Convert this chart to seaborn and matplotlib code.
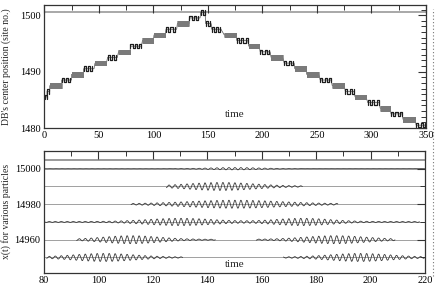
import numpy as np
import pandas as pd
import matplotlib
matplotlib.use("Agg")
import matplotlib.pyplot as plt
from matplotlib.ticker import MultipleLocator, FixedLocator
from matplotlib.lines import Line2D
import seaborn as sns

# ---------------- data ----------------
# Top panel: DB centre position. Each block = time span during which the
# centre hops between site n and site n+1.
blk_t0 = [0.5, 2.5, 5, 16, 25, 36, 46.5, 58, 68, 79, 90, 100.6, 111.6, 122, 133, 143.4,
          148, 153.5, 165, 176.5, 187.5, 198, 208, 220, 229.7, 240.6, 253, 264, 276, 285,
          296.6, 308, 318, 329, 341]
blk_t1 = [2.5, 5, 16, 25, 36, 45.6, 57, 67, 78.6, 89, 100, 111, 121.4, 132.7, 142.8, 147.4,
          153, 162, 176, 186.5, 197, 207, 218.6, 229, 240, 251.7, 263, 275, 284, 295,
          307, 317, 328, 340, 349.5]
blk_site = [1485, 1486, 1487, 1488, 1489, 1490, 1491, 1492, 1493, 1494, 1495, 1496, 1497, 1498,
            1499, 1500, 1498, 1497, 1496, 1495, 1494, 1493, 1492, 1491, 1490, 1489, 1488, 1487,
            1486, 1485, 1484, 1483, 1482, 1481, 1480]
blk_dense = [0, 0, 1, 0, 1, 0, 1, 0, 1, 0, 1, 1, 0, 1, 0, 0,
             0, 0, 1, 0, 1, 0, 1, 0, 1, 1, 0, 1, 0, 1, 0, 1, 0, 1, 0]

# Bottom panel: x(t) of particles around sites 14950 ... 15000
row_levels = [15000, 14990, 14980, 14970, 14960, 14950]
seg_row = [15000, 14990, 14980, 14970, 14960, 14960, 14950, 14950]
seg_t0 = [80, 125, 112, 80, 92, 158, 81, 168]
seg_t1 = [220, 175, 188, 218, 143, 209, 131, 220]
pk_row = [15000, 14990, 14980, 14970, 14970, 14960, 14960, 14950, 14950]
pk_center = [150, 145, 150, 130, 175, 112, 187, 102, 196]
pk_width = [9, 12, 17, 12, 10, 10, 11, 11, 11]
pk_amp = [0.6, 2.0, 2.0, 1.8, 1.8, 2.0, 2.0, 2.0, 2.0]
osc_period = 2.2
osc_floor = 0.25

# ---------------- build tables ----------------
tt, vv, uu, kk = [], [], [], []
for b, (t0, t1, n, d) in enumerate(zip(blk_t0, blk_t1, blk_site, blk_dense)):
    h = 0.3 if d else 2.0
    lo, hi = n + 0.1, n + 0.9
    ts = np.arange(t0, t1 + 1e-9, h)
    cur = lo
    for t in ts:
        for j in range(2):
            tt.append(t); vv.append(cur); uu.append(b); kk.append("dense" if d else "sparse")
            if j == 0:
                cur = hi if cur == lo else lo
top_df = pd.DataFrame({"time": tt, "pos": vv, "blk": uu, "kind": kk})

# continuous path joining the blocks
join_t, join_v = [], []
for t0, t1, n in zip(blk_t0, blk_t1, blk_site):
    join_t += [t0, t1]; join_v += [n + 0.5, n + 0.5]
join_df = pd.DataFrame({"time": join_t, "pos": join_v})

rows = []
for s, (r, t0, t1) in enumerate(zip(seg_row, seg_t0, seg_t1)):
    t = np.arange(t0, t1, 0.05)
    env = np.full_like(t, osc_floor if r != 15000 else 0.05)
    for pr, c, w, a in zip(pk_row, pk_center, pk_width, pk_amp):
        if pr == r:
            env = env + a * np.exp(-0.5 * ((t - c) / w) ** 2)
    x = r + env * np.sin(2 * np.pi * t / osc_period)
    for ti, xi in zip(t, x):
        rows.append((s, ti, xi))
bot_df = pd.DataFrame(rows, columns=["seg", "time", "x"])

# ---------------- plotting ----------------
sns.set_theme(style="white")
plt.rcParams["font.family"] = ["Liberation Serif", "DejaVu Serif"]
plt.rcParams["axes.edgecolor"] = "#333333"
plt.rcParams["axes.linewidth"] = 0.9

fig = plt.figure(figsize=(4.36, 2.87), dpi=100)
ax1 = fig.add_axes([0.1016, 0.554, 0.8755, 0.4286])
ax2 = fig.add_axes([0.1009, 0.0498, 0.8739, 0.4242])

sns.lineplot(data=join_df, x="time", y="pos", ax=ax1, estimator=None, sort=False,
             color="#555555", lw=0.5)
sns.lineplot(data=top_df[top_df.kind == "dense"], x="time", y="pos", units="blk", ax=ax1,
             estimator=None, sort=False, color="#7a7a7a", lw=0.5)
sns.lineplot(data=top_df[top_df.kind == "sparse"], x="time", y="pos", units="blk", ax=ax1,
             estimator=None, sort=False, color="#1e1e1e", lw=0.9)
ax1.axhline(1500.55, color="#9a9a9a", lw=1.2, zorder=0)
ax1.set_xlim(0, 350)
ax1.set_ylim(1480, 1501.8)
ax1.xaxis.set_major_locator(MultipleLocator(50))
ax1.xaxis.set_minor_locator(MultipleLocator(25))
ax1.yaxis.set_major_locator(MultipleLocator(10))
ax1.yaxis.set_minor_locator(MultipleLocator(1))
ax1.set_xlabel("")
ax1.set_ylabel("DB's center position (site no.)", fontsize=7)
ax1.yaxis.set_label_coords(-0.086, 0.5)
ax1.text(0.5, 0.07, "time", transform=ax1.transAxes, ha="center", va="bottom", fontsize=8)

for r in row_levels:
    ax2.axhline(r, color="#a0a0a0", lw=0.7, zorder=0)
ax2.axhline(15004.8, color="#9a9a9a", lw=1.4, zorder=0)
sns.lineplot(data=bot_df, x="time", y="x", units="seg", ax=ax2, estimator=None, sort=False,
             color="#3a3a3a", lw=0.6)
ax2.set_xlim(80, 220)
ax2.set_ylim(14941.4, 15010)
ax2.xaxis.set_major_locator(MultipleLocator(20))
ax2.xaxis.set_minor_locator(MultipleLocator(10))
ax2.yaxis.set_major_locator(FixedLocator([14960, 14980, 15000]))
ax2.yaxis.set_minor_locator(MultipleLocator(10))
ax2.set_xlabel("")
ax2.set_ylabel("x(t) for various particles", fontsize=7)
ax2.yaxis.set_label_coords(-0.086, 0.5)
ax2.text(0.5, 0.03, "time", transform=ax2.transAxes, ha="center", va="bottom", fontsize=8)

for ax in (ax1, ax2):
    ax.tick_params(which="both", direction="in", top=True, right=True, colors="#333333",
                   labelcolor="black", labelsize=7.5, pad=2.5)
    ax.tick_params(which="major", length=6, width=0.8)
    ax.tick_params(which="minor", length=3.5, width=0.7)
    for sp in ax.spines.values():
        sp.set_visible(True)

fig.add_artist(Line2D([433 / 436, 433 / 436], [0.04, 0.97], transform=fig.transFigure,
                      color="#777777", lw=0.8, ls=(0, (1, 2))))

fig.savefig("out.png", dpi=100)
